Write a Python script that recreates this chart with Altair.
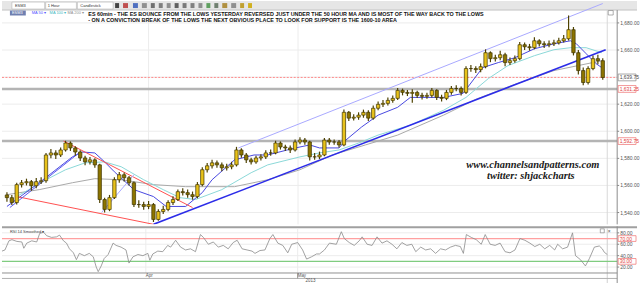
import altair as alt
import pandas as pd

# ---------------- data ----------------
first_open = 1553.0
closes = [1551.0, 1547.4, 1560.6, 1562.0, 1562.8, 1559.8, 1562.8, 1563.5, 1582.5, 1584.0,
          1582.5, 1586.2, 1591.3, 1587.7, 1584.7, 1580.3, 1577.4, 1578.9, 1575.2, 1549.6,
          1542.3, 1551.0, 1564.2, 1567.9, 1565.7, 1562.0, 1545.9, 1545.9, 1544.5, 1545.9,
          1534.9, 1540.8, 1542.3, 1547.4, 1549.6, 1555.4, 1554.7, 1553.2, 1551.8, 1560.6,
          1571.6, 1574.5, 1576.7, 1575.2, 1573.0, 1573.8, 1575.2, 1586.2, 1582.5, 1578.9,
          1577.4, 1580.3, 1581.1, 1584.0, 1584.0, 1591.3, 1588.4, 1587.7, 1586.2, 1592.1,
          1593.5, 1592.1, 1581.1, 1581.1, 1582.5, 1593.5, 1592.1, 1592.1, 1589.9, 1614.0,
          1609.7, 1610.4, 1611.9, 1614.0, 1609.7, 1617.0, 1619.9, 1620.6, 1622.8, 1624.3,
          1630.2, 1628.7, 1628.0, 1628.7, 1626.5, 1625.8, 1626.5, 1630.2, 1625.0, 1624.3,
          1628.7, 1631.6, 1631.6, 1628.7, 1646.3, 1646.3, 1645.5, 1647.7, 1658.0, 1653.6,
          1654.3, 1656.5, 1650.7, 1652.1, 1653.6, 1663.9, 1662.4, 1661.7, 1666.8, 1664.6,
          1663.9, 1664.6, 1665.3, 1666.8, 1668.3, 1675.0, 1658.0, 1644.8, 1636.0, 1646.3,
          1653.6, 1652.1, 1639.7]
highs = [1555, 1553, 1562, 1564, 1565, 1564, 1565.5, 1566, 1584, 1587,
         1586, 1588, 1593, 1592.5, 1589, 1586, 1582, 1581, 1580, 1576,
         1551, 1553, 1566, 1570, 1569.5, 1567, 1563, 1549, 1548, 1548.5,
         1547, 1542.5, 1545, 1549, 1552, 1557, 1558, 1557, 1555.5, 1562.5,
         1573.5, 1576.5, 1579, 1578.5, 1577, 1576, 1577.5, 1588.5, 1587.5, 1584,
         1580.5, 1582, 1583, 1586, 1586.5, 1593, 1592.5, 1590, 1589.5, 1594,
         1595.5, 1595, 1593, 1584, 1585, 1595, 1595, 1594, 1593.5, 1616,
         1615, 1612.5, 1614, 1616, 1615.5, 1619, 1622, 1623, 1625, 1626.5,
         1632, 1631.5, 1630.5, 1631, 1630, 1628.5, 1628.5, 1632, 1631, 1627,
         1630.5, 1633.5, 1634, 1633, 1648, 1649, 1648, 1650, 1660.5, 1659,
         1656.5, 1659.5, 1658, 1654.5, 1656, 1666, 1665.5, 1664.5, 1669.5, 1668,
         1666.5, 1667, 1667.5, 1669, 1671, 1685.5, 1677, 1660, 1647, 1648,
         1656, 1656.5, 1654]
lows = [1548, 1545.5, 1546, 1558.5, 1560, 1556, 1558, 1561, 1562, 1580,
        1579.5, 1581, 1585, 1585.5, 1582, 1578, 1575, 1575.5, 1573, 1547,
        1540, 1541, 1550, 1562, 1563, 1560, 1544, 1543.5, 1542, 1542.5,
        1533, 1534, 1539, 1541, 1545.5, 1548.5, 1552.5, 1551, 1549.5, 1550.5,
        1559.5, 1569.5, 1572.5, 1573, 1570.5, 1571, 1572, 1574, 1580.5, 1576.5,
        1575.5, 1576, 1578.5, 1579.5, 1582, 1583, 1586.5, 1585.5, 1584, 1585,
        1590.5, 1590, 1578.5, 1579, 1579.5, 1581.5, 1590, 1590, 1588, 1589,
        1607.5, 1608, 1608.5, 1610, 1607.5, 1608.5, 1615.5, 1618, 1619, 1621,
        1623, 1626.5, 1626, 1621, 1624.5, 1623.5, 1624, 1625, 1623, 1622,
        1623, 1627, 1629.5, 1626.5, 1627.5, 1644, 1643, 1643.5, 1646.5, 1651,
        1651.5, 1652.5, 1648, 1649, 1650.5, 1652.5, 1660, 1659.5, 1660.5, 1662.5,
        1661.5, 1662, 1663, 1664, 1665.5, 1667, 1656, 1642, 1634, 1634.5,
        1645, 1649.5, 1638]

ma50_i = [0, 6.6, 13.4, 15.4, 18, 20, 22, 26, 30, 32.6, 36.6, 40, 42, 46.6, 50.6, 53.4, 57.4, 60, 62,
          64, 68, 69.4, 72.6, 76, 80, 82.6, 89.4, 93.4, 97.4, 100.6, 104, 108, 112, 115.4, 116.6,
          118.6, 120.6, 121.8]
ma50_p = [1544.5, 1562.0, 1581.1, 1584.7, 1584.0, 1577.4, 1570.1, 1556.9, 1551.8, 1544.5, 1544.5,
          1554.7, 1564.2, 1578.9, 1582.5, 1582.5, 1586.2, 1588.4, 1589.9, 1587.7, 1587.7, 1593.5,
          1603.1, 1611.9, 1617.7, 1625.0, 1625.0, 1628.0, 1647.0, 1650.7, 1654.3, 1660.9, 1664.6,
          1666.8, 1664.6, 1657.3, 1650.0, 1647.0]
ma100_i = [2, 8, 12, 16, 20, 23.4, 28, 32, 35.4, 38.6, 44, 50, 53.4, 60, 64, 68, 72, 76, 82.6, 89.4,
           94, 98.6, 102.6, 108, 112, 115.4, 118.6, 121.8]
ma100_p = [1551.8, 1564.2, 1571.6, 1576.7, 1577.4, 1573.8, 1564.2, 1556.9, 1551.0, 1549.6, 1556.9,
           1569.4, 1575.2, 1581.1, 1584.0, 1586.2, 1591.3, 1597.2, 1604.5, 1615.5, 1625.0, 1639.0,
           1648.5, 1655.8, 1660.2, 1661.7, 1661.7, 1658.0]
ma200_i = [0, 6.6, 13.4, 18, 23.4, 30, 36.6, 46.6, 53.4, 60, 66.6, 73.4, 80, 89.4, 96, 104, 112, 121.8]
ma200_p = [1553.2, 1556.9, 1562.0, 1565.0, 1564.2, 1560.6, 1559.1, 1559.1, 1564.2, 1571.6, 1582.5,
           1589.9, 1597.2, 1611.9, 1623.6, 1634.6, 1644.8, 1652.1]

support_i = [30, 122.6];      support_p = [1531.3, 1660.2]
channel_i = [47.4, 122];      channel_p = [1587.7, 1694.3]
red_low_i = [2, 30];          red_low_p = [1551.8, 1531.3]
red_high_i = [11.6, 38];      red_high_p = [1592.8, 1543.7]
blue_tl_i = [0.6, 15];        blue_tl_p = [1543.7, 1584.7]
lblue_tl_i = [19.4, 26];      lblue_tl_p = [1540.1, 1567.9]

rsi_i = [0, 0.6, 1.4, 2, 3, 4, 4.4, 5, 6, 7, 7.6, 8.4, 9, 10, 11, 11.6, 12.4, 13, 13.6, 14.4, 15,
         15.6, 16.6, 17.6, 18.4, 19, 19.4, 20, 20.6, 21.4, 22.4, 23, 24, 25, 25.6, 26.4, 27.4, 28.4,
         29.4, 29.8, 30.4, 31.4, 32.4, 33.4, 34, 35, 36, 37, 38, 39, 40, 40.6, 41.6, 42.6, 43.6, 44.6,
         45.6, 46.6, 47.4, 48.4, 49.4, 50.4, 51, 52, 53, 54, 54.6, 55.6, 56.6, 57.6, 58.4, 59.6, 60.6,
         61.4, 62.4, 63.4, 64, 65, 66, 67.4, 68.4, 69, 70, 71, 72, 72.6, 73.6, 74.6, 75.6, 76.6, 77.6,
         78.6, 79.6, 80.6, 81.6, 82.6, 83.4, 84.4, 85.4, 86.4, 87.4, 88.4, 89.4, 90.4, 91.4, 92.4, 93,
         93.6, 94.6, 95.6, 96.6, 97.4, 98.4, 99.4, 100.4, 101.4, 102.4, 103.4, 104.4, 105.4, 106.4,
         107.4, 108.4, 109.4, 110.4, 111.4, 112, 113, 114, 115, 115.6, 116.6, 117.6, 118.4, 119.4,
         120.4, 121, 121.4, 122]
rsi_v = [48, 50, 66, 68, 65, 64, 53, 62, 66, 64, 79, 81, 75, 72, 73, 76, 66, 62, 52, 45, 33, 44, 40,
         44, 38, 20, 12, 22, 35, 42, 62, 58, 55, 50, 27, 38, 42, 40, 44, 32, 43, 48, 47, 58, 55, 67, 55,
         50, 52, 47, 77, 72, 60, 64, 55, 58, 52, 63, 67, 52, 50, 48, 44, 49, 50, 70, 77, 62, 58, 45, 60,
         63, 50, 34, 38, 43, 43, 50, 62, 60, 82, 70, 63, 58, 66, 73, 60, 58, 73, 62, 66, 60, 52, 63, 58,
         60, 47, 55, 50, 52, 44, 52, 50, 55, 58, 56, 44, 77, 72, 68, 60, 77, 60, 58, 62, 47, 45, 50, 70,
         67, 62, 56, 60, 52, 58, 50, 60, 52, 55, 80, 40, 33, 22, 35, 55, 57, 52, 46, 42]

price_ticks = [1540, 1560, 1580, 1600, 1620, 1660, 1680]
price_tick_labels = ["1,540.00", "1,560.00", "1,580.00", "1,600.00", "1,620.00", "1,660.00", "1,680.00"]
price_grid = [1540, 1560, 1580, 1600, 1620, 1640, 1660, 1680]
gray_levels = [1631.25, 1592.75]
last_price = 1639.75
box_prices = [1639.75, 1631.25, 1592.75]
box_labels = ["1,639.75", "1,631.25", "1,592.75"]
box_text_colors = ["#444444", "#e04040", "#e04040"]
box_stroke_colors = ["#909090", "#f08080", "#f08080"]

rsi_ticks = [80, 60, 40, 20]
rsi_tick_labels = ["80.00", "60.00", "40.00", "20.00"]
rsi_box_vals = [70, 30]
rsi_box_labels = ["70.00", "30.00"]

month_i = [29.0, 59.6]
month_labels = ["Apr", "May"]
year_i = [61.2]
year_labels = ["2013"]

title_1 = "ES 60min - THE ES BOUNCE FROM THE LOWS YESTERDAY REVERSED JUST UNDER THE 50 HOUR MA AND IS MOST OF THE WAY BACK TO THE LOWS"
title_2 = "- ON A CONVICTION BREAK OF THE LOWS THE NEXT OBVIOUS PLACE TO LOOK FOR SUPPORT IS THE 1600-10 AREA"

# ---------------- scales ----------------
W = 640
H_TOP = 225
H_BOT = 58
xs = alt.Scale(domain=[0, 128], nice=False, zero=False)
ys = alt.Scale(domain=[1531.27, 1696.1], nice=False, zero=False)
rs = alt.Scale(domain=[-9.5, 91.4], nice=False, zero=False)
FONT = "Liberation Sans"
one = pd.DataFrame({"a": [0]})


def drect(x, x2, y, y2, **kw):
    return alt.Chart(one).mark_rect(**kw).encode(
        x=alt.value(x), x2=alt.value(x2), y=alt.value(y), y2=alt.value(y2))


def dtext(x, y, text, **kw):
    return alt.Chart(one).mark_text(text=text, font=FONT, **kw).encode(
        x=alt.value(x), y=alt.value(y))


def drule(x, x2, y, y2, **kw):
    return alt.Chart(one).mark_rule(**kw).encode(
        x=alt.value(x), x2=alt.value(x2), y=alt.value(y), y2=alt.value(y2))


def hlines(vals, scale, x0, x1, **kw):
    df = pd.DataFrame({"v": vals})
    return alt.Chart(df).mark_rule(**kw).encode(
        x=alt.value(x0), x2=alt.value(x1), y=alt.Y("v:Q", scale=scale, axis=None))


def vlines(vals, y0, y1, **kw):
    df = pd.DataFrame({"v": vals})
    return alt.Chart(df).mark_rule(**kw).encode(
        x=alt.X("v:Q", scale=xs, axis=None), y=alt.value(y0), y2=alt.value(y1))


def series(ii, pp, scale, **kw):
    n = min(len(ii), len(pp))
    df = pd.DataFrame({"i": ii[:n], "p": pp[:n], "o": list(range(n))})
    return alt.Chart(df).mark_line(clip=True, **kw).encode(
        x=alt.X("i:Q", scale=xs, axis=None), y=alt.Y("p:Q", scale=scale, axis=None), order="o:Q")


def axis_labels(vals, labels, scale, color="#555555"):
    df = pd.DataFrame({"v": vals, "t": labels})
    ticks = alt.Chart(df).mark_rule(color="#888888").encode(
        x=alt.value(620), x2=alt.value(622), y=alt.Y("v:Q", scale=scale, axis=None))
    txt = alt.Chart(df).mark_text(align="left", baseline="middle", fontSize=5, font=FONT, color=color).encode(
        x=alt.value(623), y=alt.Y("v:Q", scale=scale, axis=None), text="t:N")
    return ticks + txt


def label_boxes(vals, labels, half, scale, text_colors, stroke_colors):
    df = pd.DataFrame({"v": vals, "t": labels, "tc": text_colors, "sc": stroke_colors})
    df["top"] = df["v"] + half
    df["bot"] = df["v"] - half
    box = alt.Chart(df).mark_rect(fill="white", strokeWidth=0.8).encode(
        x=alt.value(621), x2=alt.value(639),
        y=alt.Y("top:Q", scale=scale, axis=None), y2="bot:Q",
        stroke=alt.Stroke("sc:N", scale=None))
    txt = alt.Chart(df).mark_text(align="left", baseline="middle", fontSize=5, font=FONT).encode(
        x=alt.value(622.5), y=alt.Y("v:Q", scale=scale, axis=None), text="t:N",
        color=alt.Color("tc:N", scale=None))
    return box + txt


# ---------------- top panel ----------------
opens = [first_open] + closes[:-1]
n = min(len(closes), len(highs), len(lows))
cdf = pd.DataFrame({"i": list(range(n)), "o": opens[:n], "c": closes[:n], "h": highs[:n], "l": lows[:n]})
cdf["fill"] = ["#e8c21a" if c >= o else "#8c7400" for o, c in zip(cdf["o"], cdf["c"])]

wicks = alt.Chart(cdf).mark_rule(color="#4e4200", strokeWidth=1.2).encode(
    x=alt.X("i:Q", scale=xs, axis=None), y=alt.Y("l:Q", scale=ys, axis=None), y2="h:Q")
bodies = alt.Chart(cdf).mark_bar(size=3.4, stroke="#3e3400", strokeWidth=0.7).encode(
    x=alt.X("i:Q", scale=xs, axis=None), y=alt.Y("o:Q", scale=ys, axis=None), y2="c:Q",
    fill=alt.Fill("fill:N", scale=None))

toolbar = [
    drect(0, 640, 0, 9, fill="#e6e6e6"),
    drule(0, 640, 9, 9, color="#c4c4c4"),
    drect(10, 43, 1, 8, fill="white", stroke="#a8a8a8", strokeWidth=0.5),
    dtext(13, 4.8, "ESM3", fontSize=4, align="left", baseline="middle", color="#333"),
    drect(44, 75, 1, 8, fill="white", stroke="#a8a8a8", strokeWidth=0.5),
    dtext(46, 4.8, "1 Hour", fontSize=4, align="left", baseline="middle", color="#333"),
    drect(76, 112, 1, 8, fill="white", stroke="#a8a8a8", strokeWidth=0.5),
    dtext(79, 4.8, "Candlestick", fontSize=4, align="left", baseline="middle", color="#333"),
    drect(114, 118, 2, 7, fill="#444"),
    drect(122, 127, 2, 7, fill="#c05050"),
    drect(132, 137, 2, 7, fill="#5070c0"),
    drect(141, 146, 2, 7, fill="#909090"),
    drect(150, 154, 2, 7, fill="#707070"),
    drect(158, 162, 2, 7, fill="#808080"),
    drect(166, 170, 2, 7, fill="#909090"),
    drect(174, 178, 2, 7, fill="#606060"),
    drect(182, 186, 2, 7, fill="#7a7a7a"),
    drect(190, 194, 2, 7, fill="#808080"),
    drect(198, 202, 2, 7, fill="#909090"),
    drect(206, 210, 2, 7, fill="#60a060"),
    drect(214, 218, 2, 7, fill="#708070"),
    drect(222, 227, 2, 7, fill="#b09040"),
    drect(231, 236, 2, 7, fill="#909090"),
    drect(240, 244, 2, 7, fill="#c0a030"),
    drect(248, 252, 2, 7, fill="#d0b020"),
]

legend = [
    drect(8, 24, 9.5, 14.5, fill="#6f7fb0"),
    dtext(10, 12, "ESM3", fontSize=4, align="left", baseline="middle", color="white"),
    dtext(30, 12, "MA 50 ▾", fontSize=4, align="left", baseline="middle", color="#5050ff"),
    dtext(48, 12, "MA 100 ▾", fontSize=4, align="left", baseline="middle", color="#40b8c0"),
    dtext(66, 12, "MA 200 ▾", fontSize=4, align="left", baseline="middle", color="#909090"),
]

titles = [
    dtext(87, 12.8, title_1, fontSize=5.45, fontWeight="bold", align="left", baseline="middle", color="#111"),
    dtext(87, 19.2, title_2, fontSize=5.45, fontWeight="bold", align="left", baseline="middle", color="#111"),
]

watermark = [
    alt.Chart(one).mark_text(text="www.channelsandpatterns.com", font="Liberation Serif", fontStyle="italic",
                             fontWeight="bold", fontSize=10.5, color="#1a1a1a").encode(
        x=alt.value(535), y=alt.value(165.5)),
    alt.Chart(one).mark_text(text="twitter: shjackcharts", font="Liberation Serif", fontStyle="italic",
                             fontWeight="bold", fontSize=10.5, color="#1a1a1a").encode(
        x=alt.value(533), y=alt.value(176.5)),
]

top_layers = (
    toolbar
    + [hlines(price_grid, ys, 0, 620, color="#ececec", strokeWidth=1),
       vlines(month_i, 9, 225, color="#ececec", strokeWidth=1),
       drule(610, 610, 9, 225, color="#d8d8d8", strokeWidth=1),
       hlines(gray_levels, ys, 0, 620, color="#b4b4b4", strokeWidth=2.5),
       hlines([last_price], ys, 0, 620, color="#ff8a8a", strokeWidth=1, strokeDash=[2, 1.5]),
       series(ma200_i, ma200_p, ys, color="#a8a8a8", strokeWidth=1),
       series(ma100_i, ma100_p, ys, color="#8ad8d8", strokeWidth=1),
       series(ma50_i, ma50_p, ys, color="#4848e0", strokeWidth=1),
       series(channel_i, channel_p, ys, color="#a8a8ff", strokeWidth=1),
       series(support_i, support_p, ys, color="#2c2ce8", strokeWidth=1.6),
       series(red_low_i, red_low_p, ys, color="#ff5050", strokeWidth=1),
       series(red_high_i, red_high_p, ys, color="#ff5050", strokeWidth=1),
       series(blue_tl_i, blue_tl_p, ys, color="#5a5af0", strokeWidth=1),
       series(lblue_tl_i, lblue_tl_p, ys, color="#a8a8ff", strokeWidth=1),
       wicks, bodies]
    + legend + titles + watermark
    + [drect(611, 616, 9.5, 14, fill="white", stroke="#777", strokeWidth=0.6),
       drule(620, 620, 9, 225, color="#8c8c8c", strokeWidth=1),
       axis_labels(price_ticks, price_tick_labels, ys),
       label_boxes(box_prices, box_labels, 2.5, ys, box_text_colors, box_stroke_colors)]
)
top = alt.layer(*top_layers).properties(width=W, height=H_TOP)

# ---------------- bottom (RSI) panel ----------------
bot_layers = [
    drule(0, 640, 1, 1, color="#a0a0a0", strokeWidth=2),
    hlines(rsi_ticks, rs, 0, 620, color="#ececec", strokeWidth=1),
    vlines(month_i, 2, 47, color="#ececec", strokeWidth=1),
    drule(610, 610, 2, 58, color="#d0d0d0", strokeWidth=1),
    hlines([70], rs, 0, 620, color="#ffa0a0", strokeWidth=1.2),
    hlines([30], rs, 0, 620, color="#80cc80", strokeWidth=1.2),
    series(rsi_i, rsi_v, rs, color="#8a8a8a", strokeWidth=0.8),
    dtext(8, 6, "RSI 14 Smoothed ▾", fontSize=4, align="left", baseline="middle", color="#444"),
    drect(603, 607, 2.5, 6.5, fill="white", stroke="#777", strokeWidth=0.6),
    dtext(612, 4.6, "×", fontSize=5, align="center", baseline="middle", color="#555"),
    drule(0, 620, 47, 47, color="#909090", strokeWidth=1),
    drule(0, 620, 52.5, 52.5, color="#b0b0b0", strokeWidth=1),
    vlines([month_i[1]], 47, 52.5, color="#909090", strokeWidth=1),
    alt.Chart(pd.DataFrame({"i": month_i, "t": month_labels})).mark_text(
        align="left", baseline="middle", fontSize=4.5, font=FONT, color="#555").encode(
        x=alt.X("i:Q", scale=xs, axis=None), y=alt.value(50), text="t:N"),
    alt.Chart(pd.DataFrame({"i": year_i, "t": year_labels})).mark_text(
        align="left", baseline="middle", fontSize=4.5, font=FONT, color="#555").encode(
        x=alt.X("i:Q", scale=xs, axis=None), y=alt.value(55.5), text="t:N"),
    drule(620, 620, 0, 58, color="#8c8c8c", strokeWidth=1),
    axis_labels(rsi_ticks, rsi_tick_labels, rs),
    label_boxes(rsi_box_vals, rsi_box_labels, 5, rs, ["#e04040", "#e04040"], ["#f08080", "#f08080"]),
]
bottom = alt.layer(*bot_layers).properties(width=W, height=H_BOT)

chart = (
    alt.vconcat(top, bottom, spacing=0)
    .resolve_scale(x="independent", y="independent")
    .properties(padding=0, background="white")
    .configure_view(stroke=None)
)
chart.save("out.html", embed_options={"renderer": "svg", "actions": False})
